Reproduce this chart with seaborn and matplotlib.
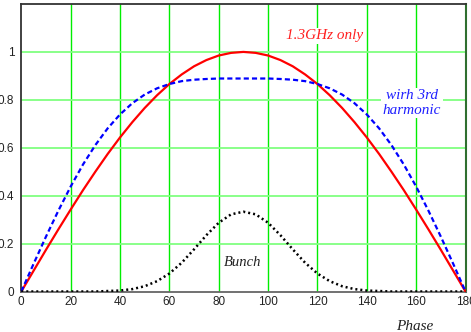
import numpy as np
import pandas as pd
import matplotlib
matplotlib.use("Agg")
import matplotlib.pyplot as plt
import seaborn as sns

# Phase in degrees, 5-degree steps
phase = list(range(0, 181, 5))

# Accelerating voltage, 1.3 GHz cavity alone
v_fundamental = [0.000, 0.087, 0.174, 0.259, 0.342, 0.423, 0.500, 0.574, 0.643,
                 0.707, 0.766, 0.819, 0.866, 0.906, 0.940, 0.966, 0.985, 0.996,
                 1.000,
                 0.996, 0.985, 0.966, 0.940, 0.906, 0.866, 0.819, 0.766, 0.707,
                 0.643, 0.574, 0.500, 0.423, 0.342, 0.259, 0.174, 0.087, 0.000]

# Accelerating voltage with the 3rd harmonic cavity added (flattened crest)
v_third = [0.000, 0.116, 0.229, 0.337, 0.438, 0.530, 0.611, 0.681, 0.739,
           0.786, 0.822, 0.848, 0.866, 0.878, 0.884, 0.887, 0.889, 0.889,
           0.889,
           0.889, 0.889, 0.887, 0.884, 0.878, 0.866, 0.848, 0.822, 0.786,
           0.739, 0.681, 0.611, 0.530, 0.438, 0.337, 0.229, 0.116, 0.000]

# Bunch profile
bunch = [0.000, 0.000, 0.000, 0.000, 0.000, 0.000, 0.000, 0.002, 0.004,
         0.010, 0.022, 0.043, 0.075, 0.120, 0.176, 0.235, 0.287, 0.322,
         0.333,
         0.322, 0.287, 0.235, 0.176, 0.120, 0.075, 0.043, 0.022, 0.010,
         0.004, 0.002, 0.000, 0.000, 0.000, 0.000, 0.000, 0.000, 0.000]

x_ticks = [0, 20, 40, 60, 80, 100, 120, 140, 160, 180]
y_ticks = [0, 0.2, 0.4, 0.6, 0.8, 1]
y_tick_labels = ["0", "0.2", "0.4", "0.6", "0.8", "1"]

df = pd.DataFrame({"phase": phase, "fund": v_fundamental,
                   "third": v_third, "bunch": bunch})

sns.set_style("white")
plt.rcParams["font.family"] = ["Liberation Sans", "DejaVu Sans"]

fig = plt.figure(figsize=(4.71, 3.32), dpi=100)
ax = fig.add_axes([21.3 / 471, 40.5 / 332, 444.2 / 471, 287.5 / 332])

# grid: vertical bright green, horizontal lighter green
for xv in x_ticks[1:]:
    ax.axvline(xv, color="#00ee00", lw=1.0, zorder=0)
for yv in y_ticks[1:]:
    ax.axhline(yv, color="#80ff80", lw=1.3, zorder=0)

sns.lineplot(data=df, x="phase", y="fund", ax=ax, color="#ff0000", lw=1.6,
             zorder=3)
line_third = sns.lineplot(data=df, x="phase", y="third", ax=ax,
                          color="#0000ff", lw=1.6, zorder=4).lines[-1]
line_third.set_dashes([2.3, 1.4])
line_bunch = sns.lineplot(data=df, x="phase", y="bunch", ax=ax,
                          color="#000000", lw=1.8, zorder=5).lines[-1]
line_bunch.set_dashes([0.8, 1.2])

ax.set_xlim(0, 180)
ax.set_ylim(0, 1.2)
ax.set_xticks(x_ticks)
ax.set_xticklabels([str(t) for t in x_ticks])
ax.set_yticks(y_ticks)
ax.set_yticklabels(y_tick_labels)
ax.tick_params(axis="both", length=0, labelsize=8.5, colors="#222222")
ax.tick_params(axis="x", pad=3)
ax.tick_params(axis="y", pad=5)
ax.set_xlabel("")
ax.set_ylabel("")

for side in ["left", "top", "bottom"]:
    ax.spines[side].set_color("#333333")
    ax.spines[side].set_linewidth(1.3)
ax.spines["bottom"].set_color("#666666")
ax.spines["right"].set_color("#2f6f2f")
ax.spines["right"].set_linewidth(1.5)

serif = ["Liberation Serif", "DejaVu Serif"]
box = dict(facecolor="white", edgecolor="none", pad=1.0)
fig.text(325 / 471, 1 - 36 / 332, "1.3GHz only", color="#ff2020",
         fontstyle="italic", family=serif, fontsize=11,
         ha="center", va="center", bbox=box, zorder=10)
fig.text(412 / 471, 1 - 103 / 332, "wirh 3rd\nharmonic", color="#2020ff",
         fontstyle="italic", family=serif, fontsize=11, linespacing=1.15,
         ha="center", va="center", bbox=box, zorder=10)
fig.text(243 / 471, 1 - 262 / 332, "Bunch", color="#222222",
         fontstyle="italic", family=serif, fontsize=10.5,
         ha="center", va="center", bbox=box, zorder=10)
fig.text(415 / 471, 1 - 326 / 332, "Phase", color="#222222",
         fontstyle="italic", family=serif, fontsize=11,
         ha="center", va="center")

fig.savefig("out.png", dpi=100, facecolor="white")
